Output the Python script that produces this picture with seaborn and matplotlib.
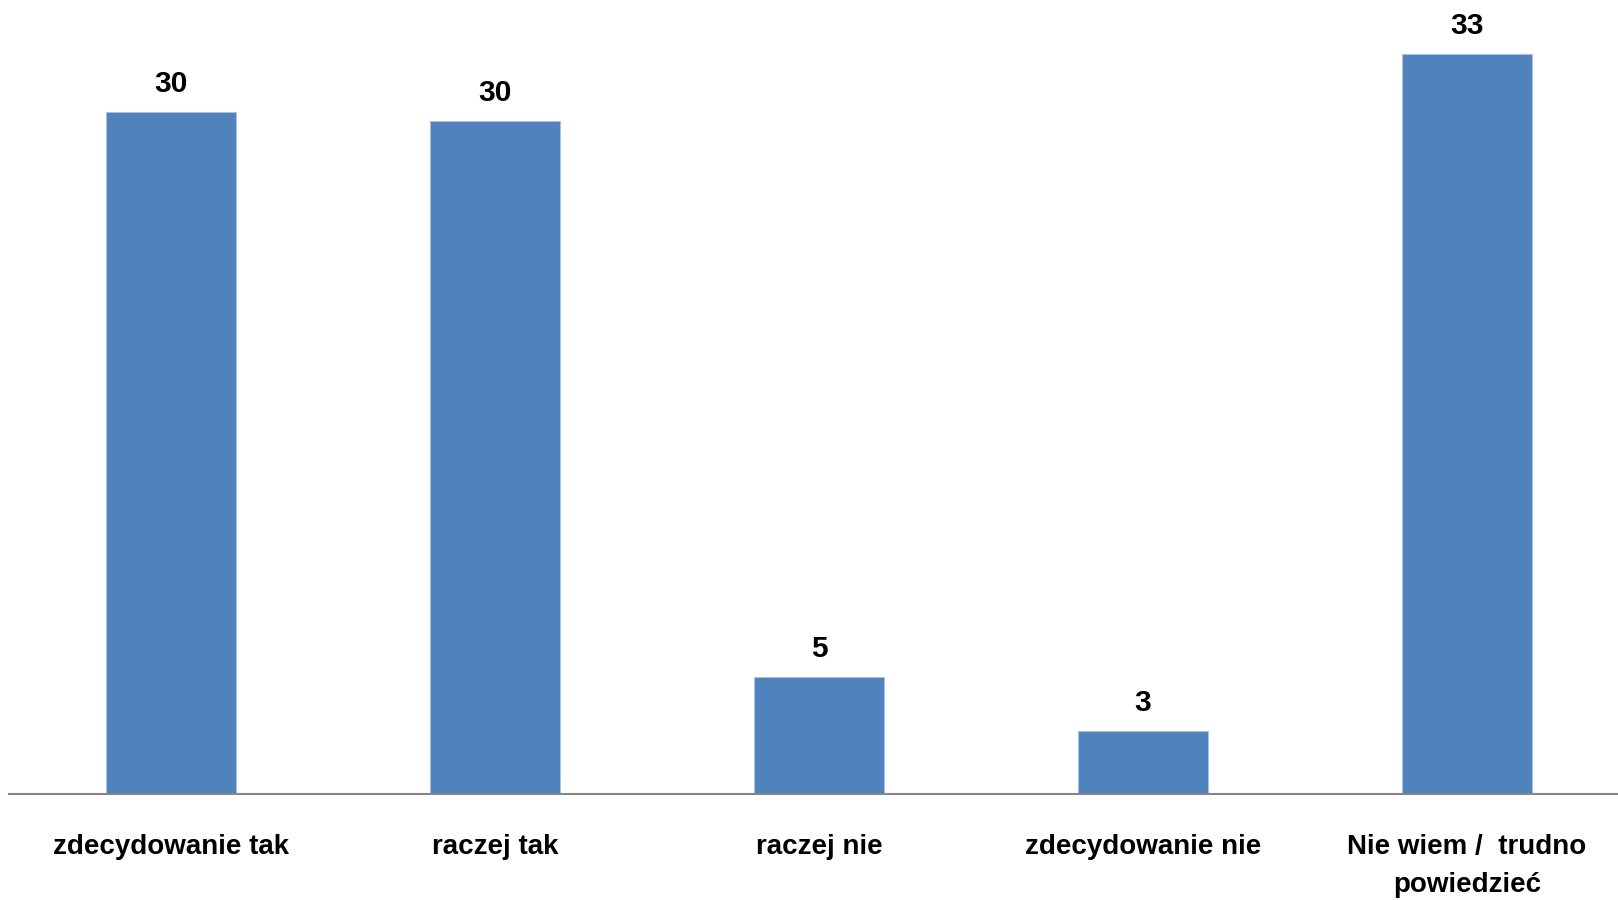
import matplotlib
matplotlib.use("Agg")
import matplotlib.pyplot as plt
import seaborn as sns
import pandas as pd

categories = ["zdecydowanie tak", "raczej tak", "raczej nie", "zdecydowanie nie",
              "Nie wiem /  trudno\npowiedzieć"]
values = [30.4, 30.0, 5.2, 2.8, 33.0]

sns.set_theme(style="white")
plt.rcParams["font.family"] = ["Liberation Sans", "DejaVu Sans"]

BAR = "#4F81BD"

fig = plt.figure(figsize=(16.18, 9.0), dpi=100)
ax = fig.add_axes([9 / 1618, 106 / 900, 1609 / 1618, 794 / 900])

df = pd.DataFrame({"cat": categories, "val": values})
sns.barplot(data=df, x="cat", y="val", color=BAR, saturation=1, width=0.4,
            edgecolor="#A9C1DF", linewidth=0.8, ax=ax)

ax.bar_label(ax.containers[0], fmt="%.0f", padding=10, fontsize=21.5,
             fontweight="bold", color="black")

ax.set_xlim(-0.5, -0.5 + 1609 / 324)
ax.set_ylim(0, 35.4)
ax.set_xlabel("")
ax.set_ylabel("")
ax.set_yticks([])
for s in ["left", "right", "top"]:
    ax.spines[s].set_visible(False)
ax.spines["bottom"].set_color("#868686")
ax.spines["bottom"].set_linewidth(1.5)
ax.tick_params(axis="x", length=0, pad=29, colors="black")
for lbl in ax.get_xticklabels():
    lbl.set_fontsize(20)
    lbl.set_fontweight("bold")
    lbl.set_color("black")
    lbl.set_verticalalignment("top")
    lbl.set_linespacing(1.6)

fig.savefig("out.png", dpi=100)
